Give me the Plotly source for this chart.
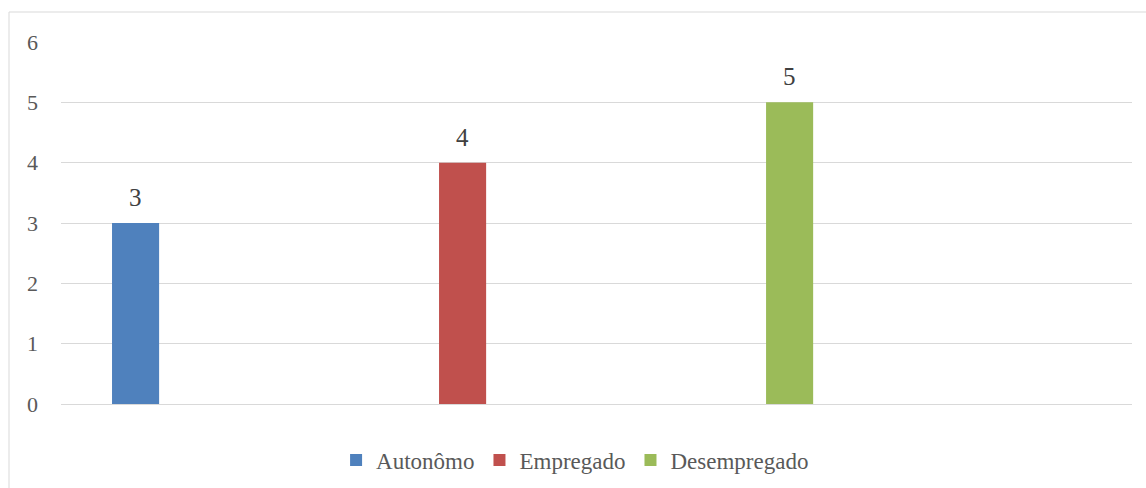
import plotly.graph_objects as go

series = ["Autonômo", "Empregado", "Desempregado"]
values = [3, 4, 5]
colors = ["#4F81BD", "#C0504D", "#9BBB59"]
y_ticks = [0, 1, 2, 3, 4, 5, 6]

font_family = "Liberation Serif, DejaVu Serif, serif"

fig = go.Figure()
for name, v, c in zip(series, values, colors):
    fig.add_trace(go.Bar(
        x=[name], y=[v], name=name, marker_color=c, marker_line_width=0,
        width=0.144,
    ))
    fig.add_annotation(x=name, y=v, text=str(v), showarrow=False,
                       yanchor="bottom", yshift=10,
                       font=dict(family=font_family, size=25, color="#404040"))

fig.update_layout(
    width=1146, height=488,
    margin=dict(l=61, r=14, t=42, b=84, autoexpand=False),
    paper_bgcolor="white", plot_bgcolor="white",
    barmode="overlay",
    font=dict(family=font_family, size=23, color="#595959"),
    showlegend=True,
    legend=dict(orientation="h", x=0.48, xanchor="center",
                yref="container", y=1 - 460 / 488, yanchor="middle",
                font=dict(family=font_family, size=23, color="#595959"),
                itemwidth=30, traceorder="normal"),
    xaxis=dict(type="category", range=[-0.228, 3.047], showticklabels=False,
               showgrid=False, zeroline=False, showline=False, ticks=""),
    yaxis=dict(range=[0, 6], tickvals=y_ticks, showgrid=True, gridcolor="#D9D9D9",
               gridwidth=1, zeroline=True, zerolinecolor="#D9D9D9", zerolinewidth=1,
               showline=False, ticks="", ticklabelstandoff=22,
               tickfont=dict(family=font_family, size=22, color="#595959")),
    shapes=[dict(type="rect", xref="paper", yref="paper",
                 x0=(9 - 61) / 1071, x1=1.1, y0=-0.3, y1=(404 - 12) / 362,
                 line=dict(color="#D9D9D9", width=1), fillcolor="rgba(0,0,0,0)",
                 layer="below")],
)

fig.write_html("out.html")
